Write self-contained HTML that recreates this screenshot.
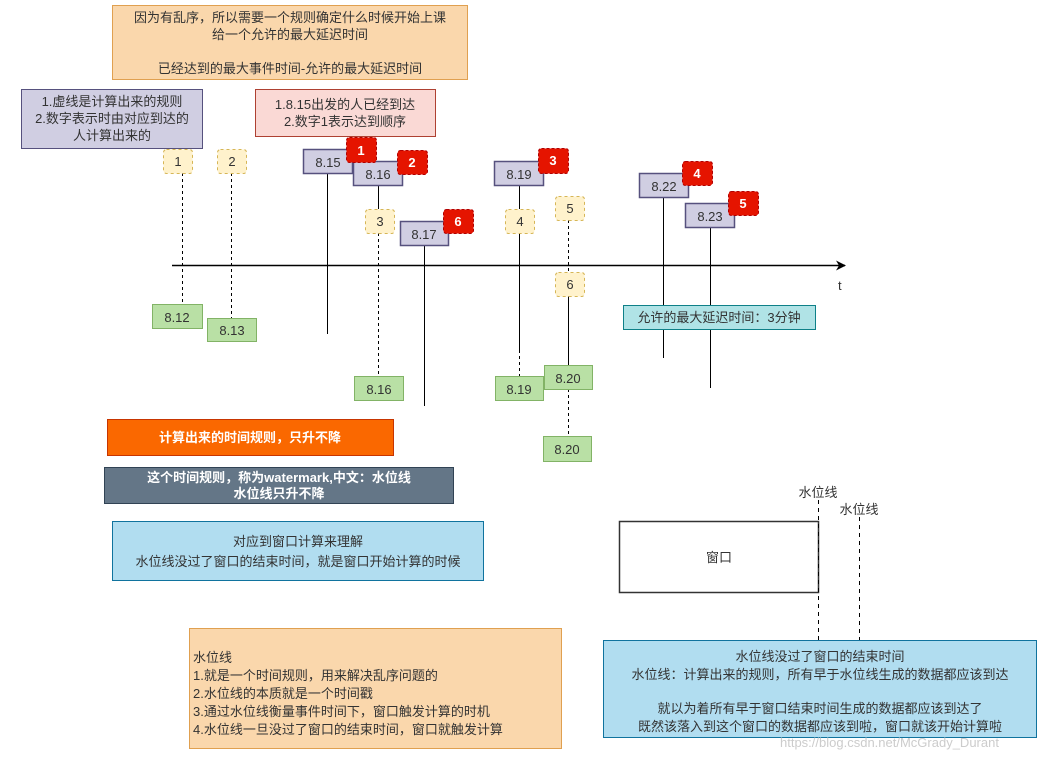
<!DOCTYPE html>
<html><head><meta charset="utf-8"><style>
html,body{margin:0;padding:0;background:#fff}
svg text{font-family:"Liberation Sans","Noto Sans CJK SC",sans-serif;font-size:13px;fill:#333}
</style></head><body>
<svg width="1054" height="755" viewBox="0 0 1054 755" xmlns="http://www.w3.org/2000/svg">
<defs><marker id="ar" markerWidth="10" markerHeight="10" refX="9" refY="5" orient="auto" markerUnits="userSpaceOnUse"><path d="M0,0 L10,5 L0,10 L3,5z" fill="#000"/></marker></defs>
<!-- top orange -->
<rect x="112.5" y="5.5" width="355" height="74" fill="#fad7ac" stroke="#e0a050"/>
<text x="290" y="22" text-anchor="middle">因为有乱序，所以需要一个规则确定什么时候开始上课</text>
<text x="290" y="39" text-anchor="middle">给一个允许的最大延迟时间</text>
<text x="290" y="73" text-anchor="middle">已经达到的最大事件时间-允许的最大延迟时间</text>
<!-- purple note -->
<rect x="21.5" y="89.5" width="181" height="59" fill="#d0cee2" stroke="#56517e"/>
<text x="112" y="106" text-anchor="middle">1.虚线是计算出来的规则</text>
<text x="112" y="123" text-anchor="middle">2.数字表示时由对应到达的</text>
<text x="112" y="140" text-anchor="middle">人计算出来的</text>
<!-- pink note -->
<rect x="255.5" y="89.5" width="180" height="47" fill="#fad9d5" stroke="#ae4132"/>
<text x="345" y="109" text-anchor="middle">1.8.15出发的人已经到达</text>
<text x="345" y="126" text-anchor="middle">2.数字1表示达到顺序</text>
<!-- axis -->
<line x1="172" y1="265.5" x2="845" y2="265.5" stroke="#000" stroke-width="1.5" marker-end="url(#ar)"/>
<text x="838" y="290">t</text>
<!-- lines -->
<g stroke="#000" stroke-width="1">
<line x1="182.5" y1="173" x2="182.5" y2="305" stroke-dasharray="3,3"/>
<line x1="231.5" y1="173" x2="231.5" y2="318" stroke-dasharray="3,3"/>
<line x1="327.5" y1="173" x2="327.5" y2="334"/>
<line x1="378.5" y1="185" x2="378.5" y2="209"/>
<line x1="378.5" y1="233" x2="378.5" y2="376" stroke-dasharray="3,3"/>
<line x1="424.5" y1="245" x2="424.5" y2="406"/>
<line x1="519.5" y1="185" x2="519.5" y2="209"/>
<line x1="519.5" y1="233" x2="519.5" y2="350"/>
<line x1="519.5" y1="350" x2="519.5" y2="376" stroke-dasharray="3,3"/>
<line x1="568.5" y1="220" x2="568.5" y2="272" stroke-dasharray="3,3"/>
<line x1="568.5" y1="296" x2="568.5" y2="365"/>
<line x1="568.5" y1="389" x2="568.5" y2="436" stroke-dasharray="3,3"/>
<line x1="663.5" y1="197" x2="663.5" y2="358"/>
<line x1="710.5" y1="227" x2="710.5" y2="388"/>
</g>
<!-- yellow dashed -->
<g fill="#fff2cc" stroke="#d6b656" stroke-dasharray="3,3">
<rect x="163.5" y="149.5" width="29" height="24" rx="3"/>
<rect x="217.5" y="149.5" width="29" height="24" rx="3"/>
<rect x="365.5" y="209.5" width="29" height="24" rx="3"/>
<rect x="505.5" y="209.5" width="29" height="24" rx="3"/>
<rect x="555.5" y="196.5" width="29" height="24" rx="3"/>
<rect x="555.5" y="272.5" width="29" height="24" rx="3"/>
</g>
<g font-size="12" text-anchor="middle">
<text x="178" y="166">1</text><text x="232" y="166">2</text><text x="380" y="226">3</text>
<text x="520" y="226">4</text><text x="570" y="213">5</text><text x="570" y="289">6</text>
</g>
<!-- purple boxes -->
<g fill="#d0cee2" stroke="#56517e" stroke-width="1.5">
<rect x="303.5" y="149.5" width="49" height="24"/>
<rect x="353.5" y="161.5" width="49" height="24"/>
<rect x="400.5" y="221.5" width="48" height="24"/>
<rect x="494.5" y="161.5" width="49" height="24"/>
<rect x="639.5" y="173.5" width="49" height="24"/>
<rect x="685.5" y="203.5" width="49" height="24"/>
</g>
<g font-size="14" text-anchor="middle">
<text x="328" y="167">8.15</text><text x="378" y="179">8.16</text><text x="424" y="239">8.17</text>
<text x="519" y="179">8.19</text><text x="664" y="191">8.22</text><text x="710" y="221">8.23</text>
</g>
<!-- red badges -->
<g fill="#e51400" stroke="#b20000" stroke-dasharray="3,2">
<rect x="346.5" y="137.5" width="30" height="25" rx="3"/>
<rect x="397.5" y="150.5" width="30" height="24" rx="3"/>
<rect x="443.5" y="209.5" width="30" height="24" rx="3"/>
<rect x="538.5" y="148.5" width="30" height="25" rx="3"/>
<rect x="682.5" y="161.5" width="30" height="24" rx="3"/>
<rect x="728.5" y="191.5" width="30" height="24" rx="3"/>
</g>
<g font-size="13" font-weight="bold" text-anchor="middle" style="fill:#fff">
<text x="361" y="155" style="fill:#fff">1</text><text x="412" y="167" style="fill:#fff">2</text><text x="458" y="226" style="fill:#fff">6</text>
<text x="553" y="165" style="fill:#fff">3</text><text x="697" y="178" style="fill:#fff">4</text><text x="743" y="208" style="fill:#fff">5</text>
</g>
<!-- green boxes -->
<g fill="#b9e0a5" stroke="#82b366">
<rect x="152.5" y="304.5" width="50" height="24"/>
<rect x="207.5" y="318.5" width="49" height="23"/>
<rect x="354.5" y="376.5" width="49" height="24"/>
<rect x="495.5" y="376.5" width="48" height="24"/>
<rect x="544.5" y="365.5" width="48" height="24"/>
<rect x="543.5" y="436.5" width="48" height="25"/>
</g>
<g font-size="14" text-anchor="middle">
<text x="177" y="322">8.12</text><text x="232" y="335">8.13</text><text x="379" y="394">8.16</text>
<text x="519" y="394">8.19</text><text x="568" y="383">8.20</text><text x="567" y="454">8.20</text>
</g>
<!-- cyan -->
<rect x="623.5" y="305.5" width="192" height="24" fill="#b0e3e6" stroke="#0e8088"/>
<text x="719" y="322" text-anchor="middle">允许的最大延迟时间：3分钟</text>
<!-- orange solid -->
<rect x="107.5" y="419.5" width="286" height="36" fill="#fa6800" stroke="#c73500"/>
<text x="250" y="442" text-anchor="middle" font-weight="bold" style="fill:#fff">计算出来的时间规则，只升不降</text>
<!-- grey -->
<rect x="104.5" y="467.5" width="349" height="36" fill="#647687" stroke="#314354"/>
<text x="279" y="482" text-anchor="middle" font-weight="bold" style="fill:#fff">这个时间规则，称为watermark,中文：水位线</text>
<text x="279" y="498" text-anchor="middle" font-weight="bold" style="fill:#fff">水位线只升不降</text>
<!-- light blue -->
<rect x="112.5" y="521.5" width="371" height="59" fill="#b1ddf0" stroke="#10739e"/>
<text x="298" y="546" text-anchor="middle">对应到窗口计算来理解</text>
<text x="298" y="566" text-anchor="middle">水位线没过了窗口的结束时间，就是窗口开始计算的时候</text>
<!-- window -->
<rect x="619.5" y="521.5" width="199" height="71" fill="#fff" stroke="#333" stroke-width="1.5"/>
<text x="719" y="562" text-anchor="middle">窗口</text>
<text x="818" y="497" text-anchor="middle">水位线</text>
<text x="859" y="514" text-anchor="middle">水位线</text>
<line x1="818.5" y1="500" x2="818.5" y2="640" stroke="#000" stroke-dasharray="4,4"/>
<line x1="859.5" y1="517" x2="859.5" y2="640" stroke="#000" stroke-dasharray="4,4"/>
<!-- bottom orange -->
<rect x="189.5" y="628.5" width="372" height="120" fill="#fad7ac" stroke="#e0a050"/>
<g text-anchor="start">
<text x="193" y="662">水位线</text>
<text x="193" y="680">1.就是一个时间规则，用来解决乱序问题的</text>
<text x="193" y="698">2.水位线的本质就是一个时间戳</text>
<text x="193" y="716">3.通过水位线衡量事件时间下，窗口触发计算的时机</text>
<text x="193" y="734">4.水位线一旦没过了窗口的结束时间，窗口就触发计算</text>
</g>
<!-- bottom blue -->
<rect x="603.5" y="640.5" width="433" height="97" fill="#b1ddf0" stroke="#10739e"/>
<g text-anchor="middle">
<text x="820" y="661">水位线没过了窗口的结束时间</text>
<text x="820" y="679">水位线：计算出来的规则，所有早于水位线生成的数据都应该到达</text>
<text x="820" y="713">就以为着所有早于窗口结束时间生成的数据都应该到达了</text>
<text x="820" y="731">既然该落入到这个窗口的数据都应该到啦，窗口就该开始计算啦</text>
</g>
<text x="780" y="747" style="fill:#ccc" font-size="14">https://blog.csdn.net/McGrady_Durant</text>
</svg>
</body></html>
